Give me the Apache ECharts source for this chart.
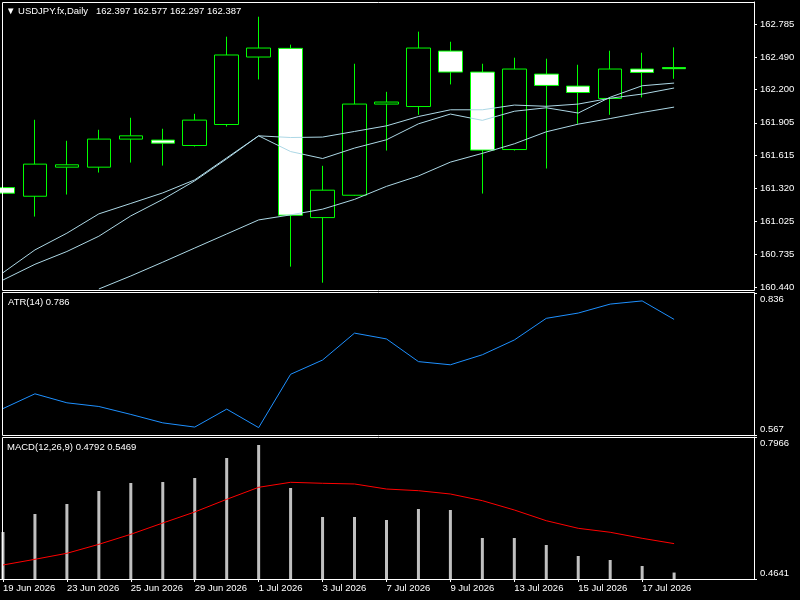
<!DOCTYPE html>
<html>
<head>
<meta charset="utf-8">
<title>USDJPY.fx Daily</title>
<script src="https://cdn.jsdelivr.net/npm/echarts@6/dist/echarts.min.js"></script>
<style>
html, body { margin: 0; padding: 0; background: #000; }
#chart { width: 800px; height: 600px; }
</style>
</head>
<body>
<div id="chart"></div>
<script>
"use strict"

const dates = ["19 Jun 2026", "22 Jun 2026", "23 Jun 2026", "24 Jun 2026", "25 Jun 2026", "26 Jun 2026",
    "29 Jun 2026", "30 Jun 2026", "1 Jul 2026", "2 Jul 2026", "3 Jul 2026", "6 Jul 2026", "7 Jul 2026",
    "8 Jul 2026", "9 Jul 2026", "10 Jul 2026", "13 Jul 2026", "14 Jul 2026", "15 Jul 2026", "16 Jul 2026",
    "17 Jul 2026", "20 Jul 2026"];
const opens = [161.328, 161.251, 161.510, 161.510, 161.760, 161.751, 161.703, 161.890, 162.491, 162.568, 161.061,
    161.260, 162.072, 162.050, 162.544, 162.357, 161.667, 162.339, 162.232, 162.122, 162.384, 162.397];
const highs = [161.457, 161.932, 161.745, 161.843, 161.950, 161.852, 161.985, 162.672, 162.850, 162.601, 161.522,
    162.431, 162.181, 162.717, 162.627, 162.431, 162.485, 162.476, 162.422, 162.547, 162.529, 162.577];
const lows = [160.980, 161.070, 161.266, 161.462, 161.551, 161.524, 161.694, 161.872, 162.291, 160.624, 160.481,
    161.255, 161.658, 161.976, 162.247, 161.275, 161.658, 161.498, 161.896, 161.976, 162.131, 162.297];
const closes = [161.278, 161.537, 161.531, 161.760, 161.789, 161.724, 161.929, 162.509, 162.571, 161.082, 161.305,
    162.072, 162.090, 162.571, 162.357, 161.662, 162.384, 162.238, 162.175, 162.384, 162.354, 162.387];

// three moving averages (fast, middle, slow)
const maFast = [160.505, 160.645, 160.759, 160.895, 161.076, 161.223, 161.388, 161.584, 161.789, 161.649, 161.587,
    161.680, 161.754, 161.896, 161.983, 161.927, 162.008, 162.039, 161.992, 162.133, 162.235, 162.259];
const maMid = [160.570, 160.773, 160.922, 161.094, 161.187, 161.281, 161.397, 161.593, 161.789, 161.774, 161.778,
    161.828, 161.878, 161.961, 162.021, 162.021, 162.063, 162.052, 162.072, 162.124, 162.161, 162.215];
const maSlow = [null, null, null, 160.425, 160.541, 160.664, 160.790, 160.915, 161.040, 161.085, 161.136,
    161.223, 161.339, 161.432, 161.555, 161.633, 161.718, 161.825, 161.893, 161.943, 161.997, 162.045];

const atrValues = [0.617, 0.645, 0.628, 0.621, 0.606, 0.590, 0.582, 0.616, 0.581, 0.682, 0.709,
    0.760, 0.749, 0.706, 0.700, 0.719, 0.747, 0.788, 0.798, 0.815, 0.821, 0.786];

const macdMain = [0.5741, 0.6163, 0.6397, 0.6702, 0.6889, 0.6912, 0.7006, 0.7474, 0.7779, 0.6772, 0.6093,
    0.6093, 0.6023, 0.6280, 0.6257, 0.5601, 0.5601, 0.5437, 0.5180, 0.5086, 0.4945, 0.4792];
const macdSignal = [0.4969, 0.5102, 0.5243, 0.5453, 0.5688, 0.5952, 0.6210, 0.6507, 0.6788, 0.6905, 0.6882,
    0.6866, 0.6748, 0.6709, 0.6631, 0.6475, 0.6257, 0.6006, 0.5828, 0.5735, 0.5594, 0.5469];

const priceTicks = [160.440, 160.735, 161.025, 161.320, 161.615, 161.905, 162.200, 162.490, 162.785];
const atrTicks = [0.567, 0.836];
const macdTicks = [0.4641, 0.7966];

const font = "'Liberation Sans', Arial, sans-serif";
const fsize = 9.5;
const white = "#ffffff";
const last = closes.length - 1;

// two empty slots keep the free space on the right of the last bar
const cats = dates.concat(["", ""]);
const candles = opens.map((o, i) => [o, closes[i], lows[i], highs[i]]);

const grids = [
    { left: -13, right: 46, top: 2, height: 288, outerBoundsMode: "none" },
    { left: -13, right: 46, top: 293, height: 142, outerBoundsMode: "none" },
    { left: -13, right: 46, top: 437, height: 142, outerBoundsMode: "none" }
];

const everyOther = (idx, val) => idx % 2 === 0 && val !== "";

function xAxisFor(idx, withLabels)
{
    return {
        type: "category",
        gridIndex: idx,
        data: cats,
        boundaryGap: true,
        axisLine: { show: withLabels, lineStyle: { color: white } },
        axisTick: { show: withLabels, interval: everyOther, alignWithLabel: true, length: 3, lineStyle: { color: white } },
        axisLabel: { show: withLabels, interval: everyOther, align: "left", margin: 4, color: white, fontSize: fsize, fontFamily: font },
        splitLine: { show: false }
    };
}

// sub window scales: MT4 writes the top label below its tick and the bottom one above
function subAxis(idx, ticks, digits)
{
    return {
        type: "value",
        gridIndex: idx,
        position: "right",
        min: ticks[0],
        max: ticks[1],
        axisLine: { show: true, lineStyle: { color: white } },
        axisTick: { show: true, length: 3, customValues: ticks, lineStyle: { color: white } },
        axisLabel: {
            customValues: ticks,
            margin: 6,
            formatter: v => Math.abs(v - ticks[0]) < 1e-9 ? `{b|${v.toFixed(digits)}}` : `{t|${v.toFixed(digits)}}`,
            rich: {
                t: { color: white, fontSize: fsize, fontFamily: font, padding: [13, 0, 0, 0] },
                b: { color: white, fontSize: fsize, fontFamily: font, padding: [0, 0, 12, 0] }
            }
        },
        splitLine: { show: false }
    };
}

const titleStyle = { color: white, fontSize: fsize, fontWeight: "normal", fontFamily: font };

const option = {
    backgroundColor: "#000000",
    animation: false,
    title: [
        {
            text: `▼ USDJPY.fx,Daily   ${opens[last].toFixed(3)} ${highs[last].toFixed(3)} ${lows[last].toFixed(3)} ${closes[last].toFixed(3)}`,
            left: 6, top: 6, padding: 0, textStyle: titleStyle
        },
        { text: `ATR(14) ${atrValues[last].toFixed(3)}`, left: 8, top: 297, padding: 0, textStyle: titleStyle },
        {
            text: `MACD(12,26,9) ${macdMain[last].toFixed(4)} ${macdSignal[last].toFixed(4)}`,
            left: 7, top: 442, padding: 0, textStyle: titleStyle
        }
    ],
    graphic: [
        { type: "rect", shape: { x: 2.5, y: 2.5, width: 752, height: 288 }, style: { fill: null, stroke: white, lineWidth: 1 }, z: 100 },
        { type: "rect", shape: { x: 2.5, y: 292.5, width: 752, height: 143 }, style: { fill: null, stroke: white, lineWidth: 1 }, z: 100 },
        { type: "rect", shape: { x: 2.5, y: 437.5, width: 752, height: 142 }, style: { fill: null, stroke: white, lineWidth: 1 }, z: 100 }
    ],
    grid: grids,
    xAxis: [xAxisFor(0, false), xAxisFor(1, false), xAxisFor(2, true)],
    yAxis: [
        {
            type: "value",
            gridIndex: 0,
            position: "right",
            min: 160.416,
            max: 162.981,
            axisLine: { show: true, lineStyle: { color: white } },
            axisTick: { show: true, length: 3, customValues: priceTicks, lineStyle: { color: white } },
            axisLabel: { customValues: priceTicks, formatter: v => v.toFixed(3), margin: 6, color: white, fontSize: fsize, fontFamily: font },
            splitLine: { show: false }
        },
        subAxis(1, atrTicks, 3),
        subAxis(2, macdTicks, 4)
    ],
    series: [
        {
            name: "USDJPY",
            type: "candlestick",
            xAxisIndex: 0,
            yAxisIndex: 0,
            data: candles,
            barWidth: 24,
            itemStyle: { color: "#000000", color0: "#ffffff", borderColor: "#00ff00", borderColor0: "#00ff00", borderWidth: 1 },
            markLine: {
                silent: true,
                symbol: "none",
                lineStyle: { opacity: 0 },
                label: {
                    position: "end",
                    distance: 2,
                    formatter: p => p.value.toFixed(3),
                    color: "#000000",
                    backgroundColor: "#ffffff",
                    padding: [1, 4, 0, 5],
                    fontSize: fsize,
                    fontFamily: font
                },
                data: [{ yAxis: closes[last] }]
            }
        },
        { name: "MA slow", type: "line", xAxisIndex: 0, yAxisIndex: 0, data: maSlow, symbol: "none", lineStyle: { color: "#add8e6", width: 1 } },
        { name: "MA mid", type: "line", xAxisIndex: 0, yAxisIndex: 0, data: maMid, symbol: "none", lineStyle: { color: "#add8e6", width: 1 } },
        { name: "MA fast", type: "line", xAxisIndex: 0, yAxisIndex: 0, data: maFast, symbol: "none", lineStyle: { color: "#add8e6", width: 1 } },
        { name: "ATR", type: "line", xAxisIndex: 1, yAxisIndex: 1, data: atrValues, symbol: "none", lineStyle: { color: "#1e90ff", width: 1 } },
        { name: "MACD", type: "bar", xAxisIndex: 2, yAxisIndex: 2, data: macdMain, barWidth: 3, clip: true, itemStyle: { color: "#c0c0c0" } },
        { name: "Signal", type: "line", xAxisIndex: 2, yAxisIndex: 2, data: macdSignal, symbol: "none", lineStyle: { color: "#ff0000", width: 1 } }
    ]
};

const myChart = echarts.init(document.getElementById("chart"), null, { renderer: "canvas" });
myChart.setOption(option);
</script>
</body>
</html>
